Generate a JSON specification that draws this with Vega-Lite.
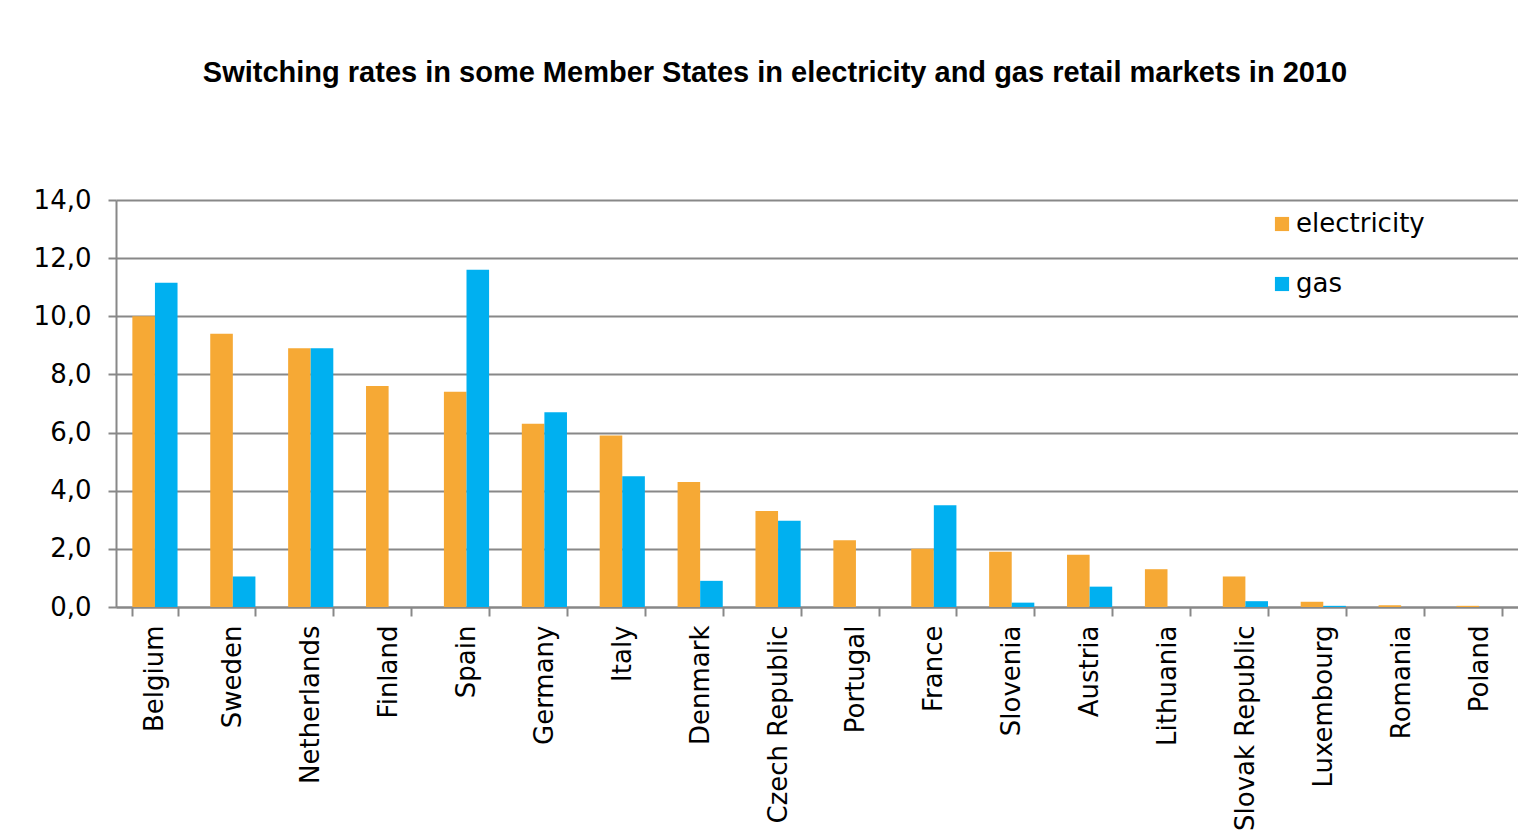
{
  "$schema": "https://vega.github.io/schema/vega-lite/v6.json",
  "width": 1402,
  "height": 407,
  "autosize": "none",
  "padding": {"left": 116, "top": 200, "right": 0, "bottom": 233},
  "background": "white",
  "config": {
    "locale": {"number": {"decimal": ",", "thousands": ".", "grouping": [3], "currency": ["", " €"]}},
    "view": {"stroke": null},
    "font": "DejaVu Sans"
  },
  "title": {
    "text": "Switching rates in some Member States in electricity and gas retail markets in 2010",
    "font": "Liberation Sans",
    "fontSize": 29,
    "fontWeight": "bold",
    "color": "black",
    "anchor": "middle",
    "dx": -42,
    "offset": 99
  },
  "data": {
    "values": [
      {"country": "Belgium", "type": "electricity", "value": 10.0},
      {"country": "Belgium", "type": "gas", "value": 11.15},
      {"country": "Sweden", "type": "electricity", "value": 9.4},
      {"country": "Sweden", "type": "gas", "value": 1.05},
      {"country": "Netherlands", "type": "electricity", "value": 8.9},
      {"country": "Netherlands", "type": "gas", "value": 8.9},
      {"country": "Finland", "type": "electricity", "value": 7.6},
      {"country": "Finland", "type": "gas", "value": 0},
      {"country": "Spain", "type": "electricity", "value": 7.4},
      {"country": "Spain", "type": "gas", "value": 11.6},
      {"country": "Germany", "type": "electricity", "value": 6.3},
      {"country": "Germany", "type": "gas", "value": 6.7},
      {"country": "Italy", "type": "electricity", "value": 5.9},
      {"country": "Italy", "type": "gas", "value": 4.5},
      {"country": "Denmark", "type": "electricity", "value": 4.3},
      {"country": "Denmark", "type": "gas", "value": 0.9},
      {"country": "Czech Republic", "type": "electricity", "value": 3.3},
      {"country": "Czech Republic", "type": "gas", "value": 2.97},
      {"country": "Portugal", "type": "electricity", "value": 2.3},
      {"country": "Portugal", "type": "gas", "value": 0},
      {"country": "France", "type": "electricity", "value": 2.0},
      {"country": "France", "type": "gas", "value": 3.5},
      {"country": "Slovenia", "type": "electricity", "value": 1.9},
      {"country": "Slovenia", "type": "gas", "value": 0.15},
      {"country": "Austria", "type": "electricity", "value": 1.8},
      {"country": "Austria", "type": "gas", "value": 0.7},
      {"country": "Lithuania", "type": "electricity", "value": 1.3},
      {"country": "Lithuania", "type": "gas", "value": 0},
      {"country": "Slovak Republic", "type": "electricity", "value": 1.05},
      {"country": "Slovak Republic", "type": "gas", "value": 0.2},
      {"country": "Luxembourg", "type": "electricity", "value": 0.18},
      {"country": "Luxembourg", "type": "gas", "value": 0.04},
      {"country": "Romania", "type": "electricity", "value": 0.06},
      {"country": "Romania", "type": "gas", "value": 0},
      {"country": "Poland", "type": "electricity", "value": 0.04},
      {"country": "Poland", "type": "gas", "value": 0}
    ]
  },
  "mark": {"type": "bar"},
  "encoding": {
    "x": {
      "field": "country",
      "type": "nominal",
      "sort": null,
      "scale": {"paddingInner": 0.42, "paddingOuter": 0.21},
      "axis": {
        "title": null,
        "labelAngle": -90,
        "labelFontSize": 26,
        "labelColor": "black",
        "labelFont": "DejaVu Sans",
        "tickBand": "extent",
        "tickSize": 9,
        "tickColor": "#888888",
        "tickWidth": 2,
        "domainColor": "#888888",
        "domainWidth": 2,
        "labelPadding": 9,
        "labelLimit": 0
      }
    },
    "xOffset": {"field": "type", "type": "nominal", "sort": ["electricity", "gas"]},
    "y": {
      "field": "value",
      "type": "quantitative",
      "scale": {"domain": [0, 14], "nice": false},
      "axis": {
        "title": null,
        "values": [0, 2, 4, 6, 8, 10, 12, 14],
        "format": ".1f",
        "labelFontSize": 26,
        "labelColor": "black",
        "labelFont": "DejaVu Sans",
        "tickSize": 8,
        "tickColor": "#888888",
        "tickWidth": 2,
        "domainColor": "#888888",
        "domainWidth": 2,
        "gridColor": "#888888",
        "gridWidth": 2,
        "labelPadding": 17
      }
    },
    "color": {
      "field": "type",
      "type": "nominal",
      "scale": {"domain": ["electricity", "gas"], "range": ["#F6A935", "#00B0F0"]},
      "legend": {
        "title": null,
        "orient": "none",
        "legendX": 1153,
        "legendY": 11,
        "symbolType": "square",
        "symbolSize": 200,
        "symbolStrokeWidth": 0,
        "labelFontSize": 26,
        "labelColor": "black",
        "labelFont": "DejaVu Sans",
        "rowPadding": 34,
        "labelOffset": 1
      }
    }
  }
}
